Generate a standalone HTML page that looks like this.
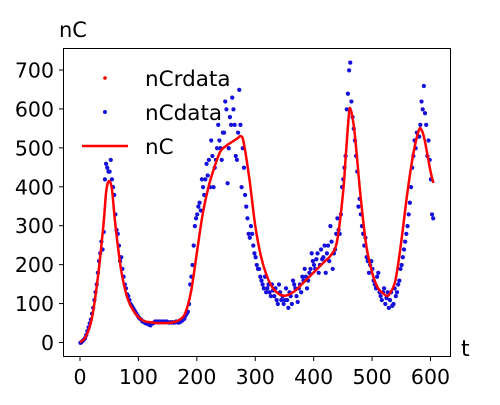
<!DOCTYPE html>
<html><head><meta charset="utf-8"><style>
html,body{margin:0;padding:0;background:#fff;}
svg text{font-family:"DejaVu Sans","Liberation Sans",sans-serif;fill:#000;}
</style></head><body>
<svg id="chart" width="500" height="400" xmlns="http://www.w3.org/2000/svg">
<rect x="0" y="0" width="500" height="400" fill="#fff"/>
<g id="marks"></g>
<rect x="63.5" y="48.5" width="387" height="308" fill="none" stroke="#000" stroke-width="1"/>
<g id="axes"></g>
<text x="59" y="37" font-size="21">nC</text>
<text x="461" y="356" font-size="22">t</text>
<g>
<circle cx="105" cy="78" r="1.8" fill="#f00"/>
<text x="145" y="86" font-size="21.5">nCrdata</text>
<circle cx="105" cy="112" r="2" fill="#1010e0"/>
<text x="145" y="120" font-size="21.5">nCdata</text>
<line x1="82" y1="146" x2="128" y2="146" stroke="#f00" stroke-width="2.5"/>
<text x="145" y="154" font-size="21.5">nC</text>
</g>
</svg>
<script>
const xTicks=[0,100,200,300,400,500,600];
const yTicks=[0,100,200,300,400,500,600,700];
const lineT=[0,10,20,30,40,45,50,55,60,70,80,90,100,110,120,130,140,150,160,170,180,190,200,210,220,230,240,250,260,270,275,280,290,300,310,320,330,340,350,360,370,380,390,400,410,420,430,440,450,455,460,463,470,480,490,500,510,520,525,530,540,550,560,570,580,585,590,600,605];
const lineV=[0,15,60,160,300,390,415,390,310,190,120,85,65,55,52,50,50,50,52,58,75,130,230,330,400,450,490,505,515,525,530,515,420,300,220,170,140,125,120,125,135,150,165,180,195,210,225,260,380,480,580,600,540,380,250,180,140,125,120,125,160,260,380,480,545,545,520,440,410];
const dataT=[0,4,8,12,16,20,24,28,32,36,40,44,48,52,56,60,64,68,72,76,80,84,88,92,96,100,104,108,112,116,120,124,128,132,136,140,144,148,152,156,160,164,168,172,176,180,184,188,192,196,200,204,208,212,216,220,224,228,232,236,240,244,248,252,256,260,264,268,272,276,280,284,288,292,296,300,304,308,312,316,320,324,328,332,336,340,344,348,352,356,360,364,368,372,376,380,384,388,392,396,400,404,408,412,416,420,424,428,432,436,440,444,448,452,456,460,462,464,468,472,476,480,484,488,492,496,500,504,508,512,516,520,524,528,532,536,540,544,548,552,556,560,564,568,572,576,580,584,588,592,596,600,604,
2,6,10,14,18,22,26,30,34,38,42,46,50,54,58,62,66,70,74,78,82,86,90,94,98,102,106,110,114,118,122,126,130,134,138,142,146,150,154,158,162,166,170,174,178,182,186,190,194,198,202,206,210,214,218,222,226,230,234,238,242,246,250,254,258,262,266,270,274,278,282,286,290,294,298,302,306,310,314,318,322,326,330,334,338,342,346,350,354,358,362,366,370,374,378,382,386,390,394,398,402,406,410,414,418,422,426,430,434,438,442,446,450,454,458,466,470,474,478,482,486,490,494,498,502,506,510,514,518,522,526,530,534,538,542,546,550,554,558,562,566,570,574,578,582,586,590,594,598,602];
const dataV=[0,5,12,30,50,75,110,150,210,260,285,460,440,470,400,330,280,210,190,150,125,110,95,85,75,65,60,55,50,48,45,50,55,55,55,55,55,55,52,52,52,55,52,55,60,70,80,150,200,300,330,360,420,380,460,470,520,400,470,560,500,540,620,410,580,630,560,470,650,400,450,350,280,300,250,220,190,170,150,170,140,130,150,120,110,150,110,100,140,90,120,160,140,105,150,170,190,140,180,230,200,215,180,240,220,180,250,300,190,240,320,280,400,450,600,700,720,620,550,480,350,330,280,270,210,200,190,150,170,130,110,140,115,90,130,100,120,150,190,220,260,300,360,450,520,540,530,620,660,560,520,420,320,
2,8,20,40,60,90,130,180,230,240,420,450,440,420,380,290,250,220,170,140,120,100,90,80,70,62,55,52,50,47,50,52,53,53,53,53,53,53,53,53,53,53,53,57,62,75,100,170,250,320,350,340,400,420,430,400,480,450,500,520,470,540,600,500,560,600,480,540,560,500,380,320,270,280,230,200,190,160,140,130,150,120,135,140,100,130,120,110,110,130,100,150,120,140,130,160,170,160,190,210,190,230,200,215,250,230,210,260,230,280,290,330,420,480,640,580,520,440,370,300,250,220,180,210,160,140,180,120,130,100,130,110,95,140,130,160,200,240,280,330,400,480,500,530,560,600,590,480,470,330];
const X=t=>80+t*(430.5-80)/600;
const Y=v=>342.5-v*(342.5-70)/700;
const NS="http://www.w3.org/2000/svg";
const axes=document.getElementById('axes');
const marks=document.getElementById('marks');
function mk(tag,attrs,parent){const e=document.createElementNS(NS,tag);for(const k in attrs)e.setAttribute(k,attrs[k]);parent.appendChild(e);return e;}
xTicks.forEach(t=>{
  const l=mk('line',{x1:X(t),x2:X(t),y1:356.5,y2:361,stroke:'#000'},axes);
  
  
  const tx=mk('text',{x:X(t),y:384,'font-size':20.5,'text-anchor':'middle'},axes);
  tx.textContent=t;
  
  
});
yTicks.forEach(v=>{
  const l=mk('line',{x1:59,x2:63.5,y1:Y(v),y2:Y(v),stroke:'#000'},axes);
  
  
  const tx=mk('text',{x:54,y:Y(v)+7.5,'font-size':20.5,'text-anchor':'end'},axes);
  tx.textContent=v;
  
  
});
dataT.forEach((t,i)=>{
  const r=mk('circle',{cx:X(t),cy:Y(dataV[i]),r:1.6,fill:'#f00'},marks);
  
  
});
dataT.forEach((t,i)=>{
  const c=mk('circle',{cx:X(t)+0.4,cy:Y(dataV[i])+0.4,r:2.1,fill:'#1010e0'},marks);
  
  
});
const P=lineT.map((t,i)=>[X(t),Y(lineV[i])]);
let d='M'+P[0][0]+','+P[0][1];
for(let i=0;i<P.length-1;i++){
  const p0=P[Math.max(i-1,0)],p1=P[i],p2=P[i+1],p3=P[Math.min(i+2,P.length-1)];
  const c1=[p1[0]+(p2[0]-p0[0])/6,p1[1]+(p2[1]-p0[1])/6];
  const c2=[p2[0]-(p3[0]-p1[0])/6,p2[1]-(p3[1]-p1[1])/6];
  d+=' C'+c1[0]+','+c1[1]+' '+c2[0]+','+c2[1]+' '+p2[0]+','+p2[1];
}
const p=mk('path',{d:d,fill:'none',stroke:'#f00','stroke-width':2.5,'stroke-linejoin':'round'},marks);


</script>
</body></html>
